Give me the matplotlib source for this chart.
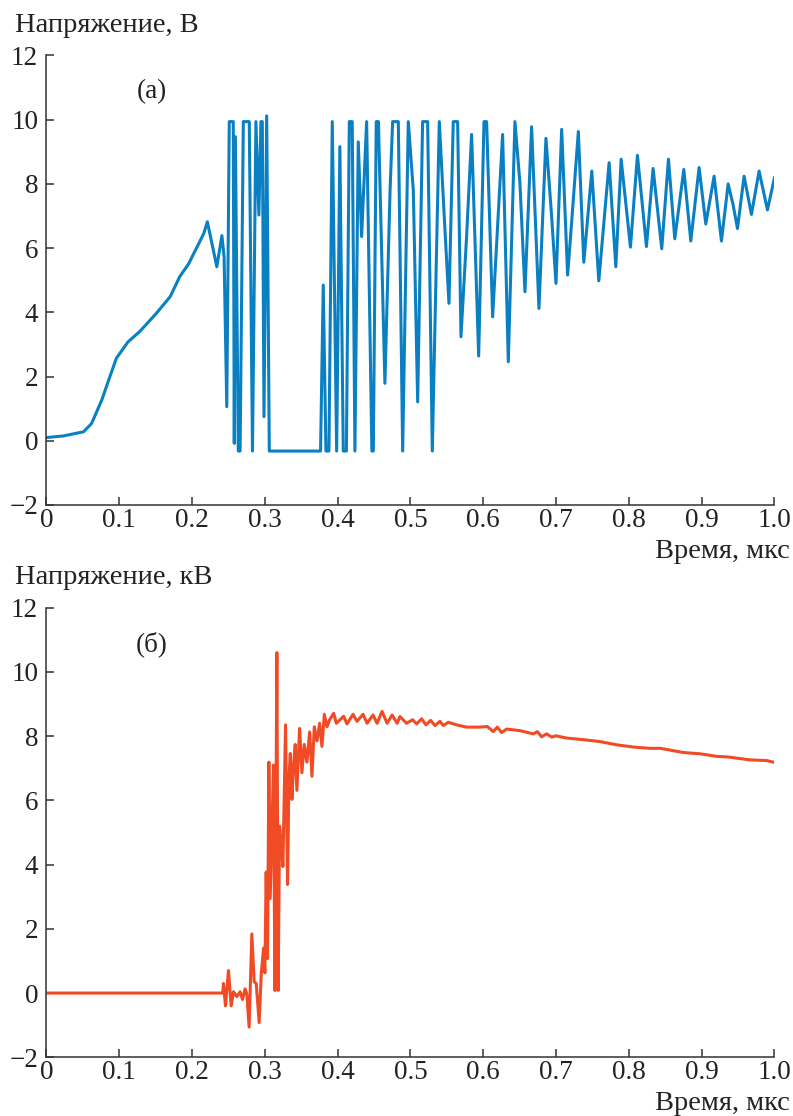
import matplotlib
matplotlib.use("Agg")
import matplotlib.pyplot as plt

plt.rcParams['font.family'] = ['Liberation Serif', 'DejaVu Serif']
plt.rcParams['axes.unicode_minus'] = True

# (a) output voltage, V
t_a = [0.000, 0.023, 0.051, 0.062, 0.076, 0.087, 0.096, 0.112, 0.128, 0.151, 0.170, 0.183,
       0.195, 0.216, 0.221, 0.234, 0.241, 0.244, 0.2477, 0.2511, 0.2566, 0.258, 0.2595,
       0.2635, 0.2660, 0.2704, 0.2786, 0.2830, 0.2877, 0.2918, 0.2946, 0.2965, 0.2988,
       0.3025, 0.3061, 0.3765, 0.3802, 0.3839, 0.3880, 0.3926, 0.3986, 0.4008, 0.4030,
       0.4077, 0.4120, 0.4160, 0.4200, 0.4237, 0.4283, 0.4329, 0.4398, 0.4470, 0.4490,
       0.4530, 0.4560, 0.4649, 0.4720, 0.4755, 0.4833, 0.4893, 0.4970, 0.5039, 0.5099,
       0.5167, 0.5236, 0.5300, 0.5396, 0.5474, 0.5529, 0.5588, 0.5648, 0.5694, 0.5771,
       0.5840, 0.5937, 0.6010, 0.6046, 0.6129, 0.6266, 0.6344, 0.6435, 0.6504, 0.6573,
       0.6664, 0.6765, 0.6861, 0.6939, 0.6999, 0.7077, 0.7159, 0.7214, 0.7306, 0.7381,
       0.7491, 0.7587, 0.7729, 0.7821, 0.7894, 0.8022, 0.8118, 0.8242, 0.8333, 0.8452,
       0.8544, 0.8631, 0.8755, 0.8851, 0.8965, 0.9057, 0.9171, 0.9272, 0.9364, 0.9432,
       0.9492, 0.9583, 0.9684, 0.9789, 0.9904, 1.000]
u_a = [0.10, 0.15, 0.28, 0.54, 1.27, 1.99, 2.57, 3.08, 3.40, 3.97, 4.49, 5.11,
       5.50, 6.45, 6.82, 5.42, 6.39, 5.72, 1.06, 9.94, 9.94, -0.08, 9.47,
       -0.32, -0.32, 9.94, 9.94, -0.32, 9.94, 7.03, 9.94, 9.94, 0.75,
       10.12, -0.32, -0.32, 4.85, -0.32, -0.32, 9.94, -0.32, 4.28, 9.16,
       -0.32, -0.32, 9.94, 9.94, -0.32, 9.31, 6.36, 9.94, -0.32, -0.32,
       9.94, 9.94, 1.79, 7.80, 9.94, 9.94, -0.32, 9.94, 7.81, 1.21,
       9.94, 9.94, -0.32, 9.94, 6.56, 4.28, 9.94, 9.94, 3.24, 6.36,
       9.54, 2.64, 9.94, 9.94, 3.86, 9.54, 2.46, 9.94, 8.02, 4.64,
       9.78, 4.12, 9.42, 7.00, 4.90, 9.70, 5.16, 6.80, 9.63, 5.56,
       8.40, 4.98, 8.66, 5.42, 8.77, 6.03, 8.89, 6.05, 8.48, 5.98,
       8.77, 6.29, 8.45, 6.22, 8.51, 6.75, 8.24, 6.22, 8.00, 7.35,
       6.61, 8.24, 7.05, 8.40, 7.19, 8.19]

# (б) high voltage, kV
t_b = [0.000, 0.2422, 0.2431, 0.2459, 0.2500, 0.2537, 0.2569, 0.2615, 0.2660, 0.2693,
       0.2729, 0.2752, 0.2784, 0.2821, 0.2853, 0.2881, 0.2922, 0.2950, 0.2982, 0.3000,
       0.3018, 0.3037, 0.3055, 0.3073, 0.3119, 0.3138, 0.3151, 0.3165, 0.3183, 0.3202,
       0.3225, 0.3248, 0.3284, 0.3312, 0.3330, 0.3349, 0.3372, 0.3394, 0.3417, 0.3440,
       0.3477, 0.3509, 0.3541, 0.3578, 0.3615, 0.3647, 0.3679, 0.3716, 0.3752, 0.3784,
       0.3817, 0.3853, 0.3890, 0.3945, 0.3982, 0.4083, 0.4128, 0.4211, 0.4266, 0.4349,
       0.4404, 0.4486, 0.4541, 0.4610, 0.4679, 0.4748, 0.4817, 0.4856, 0.4947, 0.5030,
       0.5085, 0.5153, 0.5213, 0.5277, 0.5337, 0.5405, 0.5451, 0.5520, 0.5634, 0.5772,
       0.5955, 0.6056, 0.6138, 0.6193, 0.6252, 0.6321, 0.6505, 0.6688, 0.6743, 0.6802,
       0.6871, 0.6940, 0.7000, 0.7145, 0.7374, 0.7603, 0.7832, 0.8061, 0.8290, 0.8434,
       0.8748, 0.8977, 0.9207, 0.9366, 0.9664, 0.9893, 1.000]
u_b = [0.00, 0.00, 0.30, -0.40, 0.70, -0.40, 0.04, -0.11, 0.04, -0.20,
       0.13, -0.03, -1.06, 1.84, 0.35, 0.30, -0.92, 0.57, 1.40, 0.63,
       3.77, 1.07, 7.19, 2.94, 7.10, 0.08, 5.20, 10.60, 0.08, 5.20,
       4.65, 3.94, 8.35, 3.38, 6.64, 7.46, 6.03, 7.08, 7.74, 6.31,
       8.24, 6.86, 7.74, 7.19, 8.13, 6.75, 8.29, 7.85, 8.40, 7.68,
       8.68, 8.29, 8.51, 8.71, 8.40, 8.62, 8.38, 8.68, 8.46, 8.68,
       8.40, 8.66, 8.40, 8.77, 8.40, 8.66, 8.40, 8.61, 8.40, 8.51,
       8.38, 8.54, 8.35, 8.49, 8.33, 8.46, 8.33, 8.43, 8.35, 8.28,
       8.28, 8.30, 8.14, 8.28, 8.11, 8.22, 8.17, 8.07, 8.14, 7.98,
       8.07, 7.97, 8.01, 7.94, 7.89, 7.83, 7.73, 7.66, 7.62, 7.62,
       7.49, 7.45, 7.37, 7.35, 7.26, 7.24, 7.18]

x_ticks = [0, 0.1, 0.2, 0.3, 0.4, 0.5, 0.6, 0.7, 0.8, 0.9, 1.0]
x_labels = ['0', '0.1', '0.2', '0.3', '0.4', '0.5', '0.6', '0.7', '0.8', '0.9', '1.0']
y_ticks = [-2, 0, 2, 4, 6, 8, 10, 12]

fig = plt.figure(figsize=(7.93, 11.16), dpi=100)
ax1 = fig.add_axes([0.0586, 0.5475, 0.918, 0.4028])
ax2 = fig.add_axes([0.0586, 0.0526, 0.918, 0.4029])

panels = [
    (ax1, t_a, u_a, '#0a80c2', '(a)', 'Напряжение, В', 25),
    (ax2, t_b, u_b, '#f04b25', '(б)', 'Напряжение, кВ', 578),
]

for ax, t, u, color, tag, ylab, ylab_px in panels:
    ax.plot(t, u, color=color, lw=2.2, solid_joinstyle='round')
    ax.set_xlim(0, 1.0)
    ax.set_ylim(-2, 12)
    ax.set_xticks(x_ticks)
    ax.set_xticklabels(x_labels)
    ax.set_yticks(y_ticks)
    ax.spines['top'].set_visible(False)
    ax.spines['right'].set_visible(False)
    for s in ['left', 'bottom']:
        ax.spines[s].set_color('#333333')
        ax.spines[s].set_linewidth(1.1)
    ax.tick_params(direction='in', length=6, width=1.1, color='#333333',
                   labelsize=19.5, labelcolor='#222222')
    ax.tick_params(axis='x', pad=2)
    ax.tick_params(axis='y', pad=6)
    ax.text(0.145, 10.87, tag, fontsize=19.5, ha='center', va='center', color='#222222')
    fig.text(15 / 793, 1 - ylab_px / 1116, ylab, fontsize=20.5, ha='left', va='center',
             color='#222222')

fig.text(790 / 793, 1 - 552 / 1116, 'Время, мкс', fontsize=20.5, ha='right', va='center',
         color='#222222')
fig.text(790 / 793, 1 - 1103 / 1116, 'Время, мкс', fontsize=20.5, ha='right', va='center',
         color='#222222')

fig.savefig('out.png', dpi=100)
